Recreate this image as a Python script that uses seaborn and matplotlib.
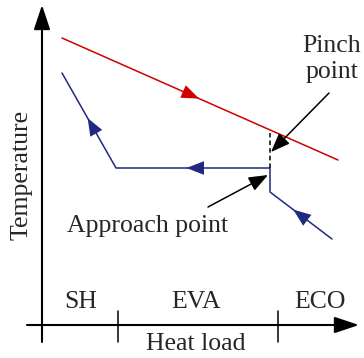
import numpy as np
import pandas as pd
import matplotlib
matplotlib.use("Agg")
import matplotlib.pyplot as plt
import seaborn as sns

sns.set_theme(style="white")
plt.rcParams["font.family"] = ["Liberation Serif", "DejaVu Serif"]

# Temperature-heat load profile (schematic units)
gas_load = [62, 338]
gas_temp = [320, 198]
water_load = [332, 270, 270, 116, 62]
water_temp = [119, 166, 190, 190, 285]

section_names = ["SH", "EVA", "ECO"]
section_centers = [81, 196, 320]
section_bounds = [118, 278]

RED = "#d00000"
BLUE = "#1f2a80"
FS = 18.5

fig = plt.figure(figsize=(3.64, 3.58), dpi=100)
ax = fig.add_axes([0, 0, 1, 1])
ax.set_xlim(0, 364)
ax.set_ylim(0, 358)
ax.axis("off")

gas = pd.DataFrame({"load": gas_load, "temp": gas_temp})
water = pd.DataFrame({"load": water_load, "temp": water_temp})
sns.lineplot(data=gas, x="load", y="temp", sort=False, estimator=None,
             color=RED, lw=1.1, ax=ax)
sns.lineplot(data=water, x="load", y="temp", sort=False, estimator=None,
             color=BLUE, lw=1.1, ax=ax)


def flow_arrow(xs, ys, seg, frac, color):
    x0, y0 = xs[seg], ys[seg]
    x1, y1 = xs[seg + 1], ys[seg + 1]
    px, py = x0 + frac * (x1 - x0), y0 + frac * (y1 - y0)
    d = np.hypot(x1 - x0, y1 - y0)
    ux, uy = (x1 - x0) / d, (y1 - y0) / d
    ax.annotate("", xy=(px + 5 * ux, py + 5 * uy), xytext=(px - 5 * ux, py - 5 * uy),
                arrowprops=dict(arrowstyle="-|>,head_length=0.9,head_width=0.35",
                                mutation_scale=14, color=color, lw=0.01,
                                shrinkA=0, shrinkB=0))


flow_arrow(gas_load, gas_temp, 0, 0.48, RED)
flow_arrow(water_load, water_temp, 0, 0.56, BLUE)
flow_arrow(water_load, water_temp, 2, 0.51, BLUE)
flow_arrow(water_load, water_temp, 3, 0.48, BLUE)

# Coordinate axes
axis_style = dict(arrowstyle="-|>,head_length=1.5,head_width=0.5", mutation_scale=10,
                  color="black", lw=1.5, shrinkA=0, shrinkB=0)
ax.annotate("", xy=(42, 353), xytext=(42, 16), arrowprops=axis_style)
ax.annotate("", xy=(359, 33), xytext=(27, 33), arrowprops=axis_style)
for b in section_bounds:
    ax.plot([b, b], [16, 47], color="black", lw=1.1)

for name, cx in zip(section_names, section_centers):
    ax.text(cx, 56, name, ha="center", va="center", fontsize=FS)
ax.text(196, 14, "Heat load", ha="center", va="center", fontsize=FS)
ax.text(22, 183, "Temperature", ha="center", va="center", rotation=90, fontsize=FS)

# Pinch point marker
ax.plot([270, 270], [190, 225], color="black", lw=1.1, ls=(0, (3, 2)))
pointer = dict(arrowstyle="-|>,head_length=0.9,head_width=0.35", mutation_scale=13,
               color="black", lw=1.1, shrinkA=0, shrinkB=0)
ax.annotate("", xy=(271, 206), xytext=(329, 265), arrowprops=pointer)
ax.text(332, 299, "Pinch\npoint", ha="center", va="center", fontsize=FS, linespacing=1.25)

# Approach point marker
ax.annotate("", xy=(268, 183), xytext=(208, 151), arrowprops=pointer)
ax.text(148, 132, "Approach point", ha="center", va="center", fontsize=FS)

fig.savefig("out.png", dpi=100)
